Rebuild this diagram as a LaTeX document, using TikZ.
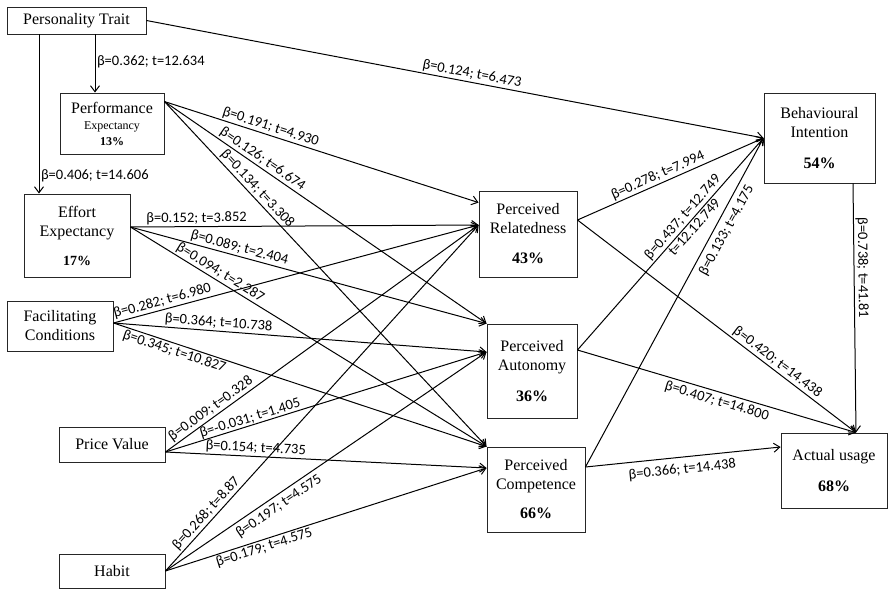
\documentclass[tikz,border=0pt]{standalone}
\usepackage{fontspec}
\setmainfont{Liberation Serif}
\newfontfamily\boxfont{Liberation Serif}
\newfontfamily\lblfont{Carlito}
\usetikzlibrary{arrows.meta}

\begin{document}
\begin{tikzpicture}[x=1pt,y=-1pt,
    box/.style={draw=black!85, line width=0.9pt, align=center, inner sep=0pt, font=\boxfont\fontsize{16}{19}\selectfont},
    arr/.style={draw=black, line width=1pt, -{Straight Barb[length=6pt,width=9pt]}},
    lbl/.style={font=\lblfont\fontsize{14.5}{16}\selectfont, inner sep=1.5pt, sloped}]
  \useasboundingbox (0,0) rectangle (888,589);

  % left hand constructs
  \node[box, minimum width=139pt, minimum height=27pt] (pt) at (76.5,20.5) {Personality Trait};
  \node[box, minimum width=104pt, minimum height=61pt] (pe) at (112,123.5) {Performance\\[-3pt]{\fontsize{12}{14}\selectfont Expectancy}\\[-3pt]{\fontsize{12}{14}\selectfont\bfseries 13\%}};
  \node[box, minimum width=106pt, minimum height=83pt] (ee) at (77,235.5) {Effort\\Expectancy\\[10pt]{\fontsize{14}{16}\selectfont\bfseries 17\%}};
  \node[box, minimum width=106pt, minimum height=50pt] (fc) at (60,326) {Facilitating\\Conditions};
  \node[box, minimum width=106pt, minimum height=35pt] (pv) at (112,444.5) {Price Value};
  \node[box, minimum width=106pt, minimum height=34pt] (hb) at (112,571) {Habit};

  % mediators
  \node[box, minimum width=98pt, minimum height=86pt] (pr) at (528,234) {Perceived\\Relatedness\\[11pt]\textbf{43\%}};
  \node[box, minimum width=90pt, minimum height=94pt] (pa) at (532,371) {Perceived\\Autonomy\\[12pt]\textbf{36\%}};
  \node[box, minimum width=98pt, minimum height=85pt] (pc) at (536,489.5) {Perceived\\Competence\\[10pt]\textbf{66\%}};

  % outcomes
  \node[box, minimum width=111pt, minimum height=90pt] (bi) at (819.5,138) {Behavioural\\Intention\\[12pt]\textbf{54\%}};
  \node[box, minimum width=106pt, minimum height=75pt] (au) at (834,470.5) {Actual usage\\[12pt]\textbf{68\%}};

  % ports
  \coordinate (pt-pe) at ([xshift=18.5pt]pt.south);
  \coordinate (pt-ee) at ([xshift=-37.5pt]pt.south);
  \coordinate (pe-o) at ([yshift=-9pt]pe.north east);
  \coordinate (ee-o) at ([yshift=8.5pt]ee.east);
  \coordinate (fc-o) at ([yshift=3pt]fc.east);
  \coordinate (pv-o) at ([yshift=-7.5pt]pv.east);
  \coordinate (hb-o) at (hb.east);
  \coordinate (pr-a) at ([yshift=-12pt]pr.north west);
  \coordinate (pr-b) at ([yshift=9pt]pr.west);
  \coordinate (pa-a) at (pa.north west);
  \coordinate (pa-b) at ([yshift=19pt]pa.west);
  \coordinate (pc-a) at (pc.north west);
  \coordinate (pc-b) at ([yshift=21.5pt]pc.west);
  \coordinate (pr-o) at ([yshift=14pt]pr.east);
  \coordinate (pa-o) at ([yshift=21pt]pa.east);
  \coordinate (pc-o) at ([yshift=22.5pt]pc.east);
  \coordinate (bi-o) at ([xshift=33.5pt]bi.south);
  \coordinate (au-a) at ([xshift=22pt]au.north);
  \coordinate (au-b) at ([yshift=23.5pt]au.west);

  % personality trait
  \draw[arr] (pt-pe) -- node[lbl, right, sloped=false, pos=0.47] {β=0.362; t=12.634} (pt-pe |- pe.north);
  \draw[arr] (pt-ee) -- node[lbl, right, sloped=false, pos=0.89] {β=0.406; t=14.606} (pt-ee |- ee.north);
  \draw[arr] (pt.east) -- node[lbl, above, pos=0.525] {β=0.124; t=6.473} (bi.west);

  % performance expectancy
  \draw[arr] (pe-o) -- node[lbl, above, pos=0.33] {β=0.191; t=4.930} (pr-a);
  \draw[arr] (pe-o) -- node[lbl, above, pos=0.29] {β=0.126; t=6.674} (pa-a);
  \draw[arr] (pe-o) -- node[lbl, above, pos=0.27] {β=0.134; t=3.308} (pc-a);

  % effort expectancy
  \draw[arr] (ee-o) -- node[lbl, above, pos=0.19] {β=0.152; t=3.852} (pr-b);
  \draw[arr] (ee-o) -- node[lbl, above, pos=0.30] {β=0.089; t=2.404} (pa-a);
  \draw[arr] (ee-o) -- node[lbl, above, pos=0.24] {β=0.094; t=2.287} (pc-a);

  % facilitating conditions
  \draw[arr] (fc-o) -- node[lbl, above, pos=0.14] {β=0.282; t=6.980} (pr-b);
  \draw[arr] (fc-o) -- node[lbl, above, pos=0.28] {β=0.364; t=10.738} (pa-b);
  \draw[arr] (fc-o) -- node[lbl, below, pos=0.17] {β=0.345; t=10.827} (pc-a);

  % price value
  \draw[arr] (pv-o) -- node[lbl, above, pos=0.16] {β=0.009; t=0.328} (pr-b);
  \draw[arr] (pv-o) -- node[lbl, above, inner sep=0pt, pos=0.27] {β=-0.031; t=1.405} (pa-b);
  \draw[arr] (pv-o) -- node[lbl, above, pos=0.28] {β=0.154; t=4.735} (pc-b);

  % habit
  \draw[arr] (hb-o) -- node[lbl, above, pos=0.15] {β=0.268; t=8.87} (pr-b);
  \draw[arr] (hb-o) -- node[lbl, below, inner sep=4pt, pos=0.335] {β=0.197; t=4.575} (pa-b);
  \draw[arr] (hb-o) -- node[lbl, below, pos=0.30] {β=0.179; t=4.575} (pc-b);

  % mediators to outcomes
  \draw[arr] (pr-o) -- node[lbl, above, pos=0.45] {β=0.278; t=7.994} (bi.west);
  \draw[arr] (pa-o) -- node[lbl, above, pos=0.60] {β=0.437; t=12.749}
                       node[lbl, below, pos=0.60] {t=12.12.749} (bi.west);
  \draw[arr] (pc-o) -- node[lbl, below, inner sep=5pt, pos=0.735] {β=0.133; t=4.175} (bi.west);
  \draw[arr] (pr-o) -- node[lbl, above, pos=0.70] {β=0.420; t=14.438} (au-a);
  \draw[arr] (pa-o) -- node[lbl, below, inner sep=3pt, pos=0.51] {β=0.407; t=14.800} (au-a);
  \draw[arr] (pc-o) -- node[lbl, below, inner sep=6pt, pos=0.49] {β=0.366; t=14.438} (au-b);
  \draw[arr] (bi-o) -- node[lbl, above, pos=0.34] {β=0.738; t=41.81} (au-a);
\end{tikzpicture}
\end{document}
